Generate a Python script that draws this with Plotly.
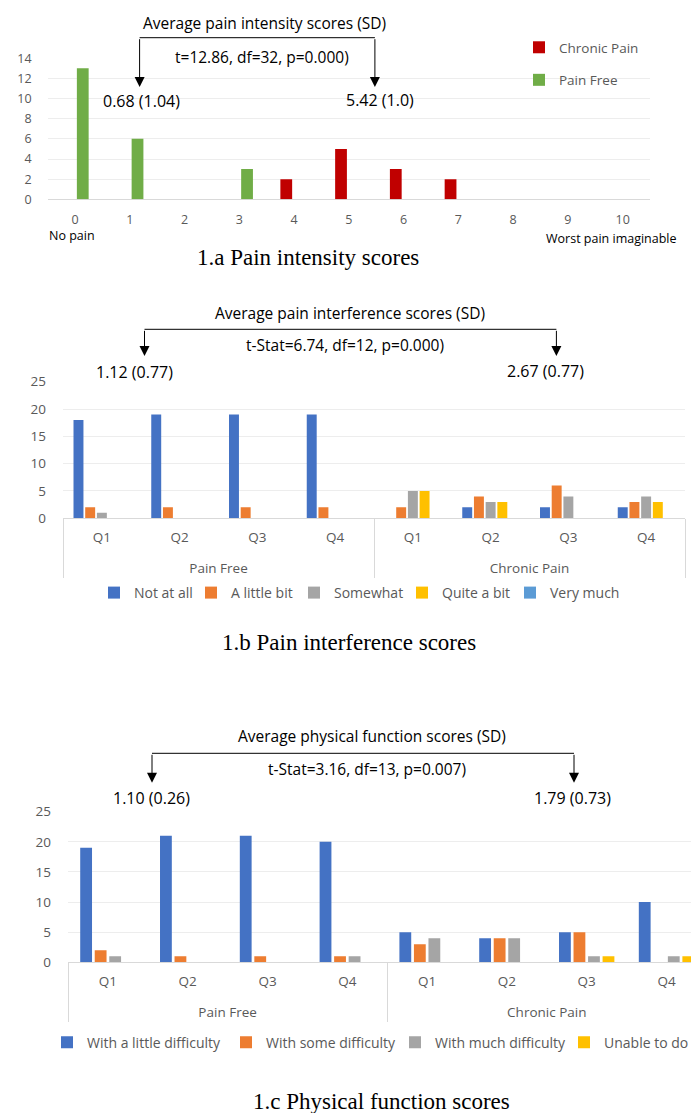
import plotly.graph_objects as go

# ---------------- data: 1.a pain intensity ----------------
intensity_levels = ["0", "1", "2", "3", "4", "5", "6", "7", "8", "9", "10"]
chronic_pain_counts = [0, 0, 0, 0, 2, 5, 3, 2, 0, 0, 0]
pain_free_counts = [13, 6, 0, 3, 0, 0, 0, 0, 0, 0, 0]
intensity_y_ticks = [0, 2, 4, 6, 8, 10, 12, 14]

# ---------------- data: 1.b pain interference ----------------
group_labels = ["Pain Free", "Pain Free", "Pain Free", "Pain Free",
                "Chronic Pain", "Chronic Pain", "Chronic Pain", "Chronic Pain"]
question_labels = ["Q1", "Q2", "Q3", "Q4", "Q1", "Q2", "Q3", "Q4"]
interference_names = ["Not at all", "A little bit", "Somewhat", "Quite a bit", "Very much"]
interference_not_at_all = [18, 19, 19, 19, 0, 2, 2, 2]
interference_a_little_bit = [2, 2, 2, 2, 2, 4, 6, 3]
interference_somewhat = [1, 0, 0, 0, 5, 3, 4, 4]
interference_quite_a_bit = [0, 0, 0, 0, 5, 3, 0, 3]
interference_very_much = [0, 0, 0, 0, 0, 0, 0, 0]

# ---------------- data: 1.c physical function ----------------
function_names = ["With a little difficulty", "With some difficulty",
                  "With much difficulty", "Unable to do"]
function_little = [19, 21, 21, 20, 5, 4, 5, 10]
function_some = [2, 1, 1, 1, 3, 4, 5, 0]
function_much = [1, 0, 0, 1, 4, 4, 1, 1]
function_unable = [0, 0, 0, 0, 0, 0, 1, 1]

# ---------------- styling ----------------
W, H = 691, 1113
FONT = "Open Sans"
SERIF = "Liberation Serif"
TICK_COLOR = "#595959"
GRID = "#EDEDED"
AXIS = "#D9D9D9"
C5 = ["#4472C4", "#ED7D31", "#A5A5A5", "#FFC000", "#5B9BD5"]


def fx(p):
    return p / W


def fy(p):
    return 1 - p / H


def offsets(n, slot, width):
    return [(i - (n - 1) / 2) * slot - width / 2 for i in range(n)]


fig = go.Figure()

# ---- 1.a traces
off_a = offsets(2, 0.284, 0.215)
fig.add_trace(go.Bar(x=intensity_levels, y=chronic_pain_counts, name="Chronic Pain",
                     marker=dict(color="#C00000", line=dict(width=0)),
                     width=0.215, offset=off_a[0], xaxis="x", yaxis="y",
                     legend="legend", legendgroup="cp"))
fig.add_trace(go.Bar(x=intensity_levels, y=pain_free_counts, name="Pain Free",
                     marker=dict(color="#70AD47", line=dict(width=0)),
                     width=0.215, offset=off_a[1], xaxis="x", yaxis="y",
                     legend="legend", legendgroup="pf"))

# ---- 1.b traces
b_series = [interference_not_at_all, interference_a_little_bit, interference_somewhat,
            interference_quite_a_bit, interference_very_much]
off_b = offsets(5, 0.1505, 0.128)
b_widths = [52, 58, 63, 63, 70]
for i, (nm, vals) in enumerate(zip(interference_names, b_series)):
    fig.add_trace(go.Bar(x=[group_labels, question_labels], y=vals, name=nm,
                         marker=dict(color=C5[i], line=dict(width=0)),
                         width=0.128, offset=off_b[i], xaxis="x2", yaxis="y2",
                         legend="legend2", legendwidth=b_widths[i]))

# ---- 1.c traces
c_series = [function_little, function_some, function_much, function_unable]
off_c = offsets(4, 0.182, 0.148)
c_widths = [134, 124, 124, 80]
for i, (nm, vals) in enumerate(zip(function_names, c_series)):
    fig.add_trace(go.Bar(x=[group_labels, question_labels], y=vals, name=nm,
                         marker=dict(color=C5[i], line=dict(width=0)),
                         width=0.148, offset=off_c[i], xaxis="x3", yaxis="y3",
                         legend="legend3", legendwidth=c_widths[i]))

tick_a = dict(family=FONT, size=12.5, color=TICK_COLOR)
tick_bc = dict(family=FONT, size=13.5, color=TICK_COLOR)

multicat = dict(type="multicategory", showgrid=False, showline=True, linecolor=AXIS,
                linewidth=1, showdividers=True, dividercolor=AXIS, dividerwidth=1,
                ticks="", tickfont=tick_bc, ticklabelstandoff=6, ticksuffix="<br> ",
                automargin=False)

fig.update_layout(
    width=W, height=H, margin=dict(l=0, r=0, t=0, b=0, autoexpand=False),
    paper_bgcolor="white", plot_bgcolor="white",
    barmode="group", showlegend=True,
    font=dict(family=FONT, color="#000000"),
    # 1.a axes
    xaxis=dict(domain=[fx(47.6), fx(650)], type="category", range=[-0.5, 10.5],
               showgrid=False, showline=False, zeroline=False, ticks="",
               tickfont=tick_a, ticklabelstandoff=11, anchor="y", automargin=False),
    yaxis=dict(domain=[fy(199.3), fy(58.3)], range=[0, 14], tickvals=intensity_y_ticks,
               showgrid=True, gridcolor=GRID, gridwidth=1, zeroline=True,
               zerolinecolor=AXIS, zerolinewidth=1, showline=False, ticks="",
               tickfont=tick_a, ticklabelstandoff=15, anchor="x", automargin=False),
    # 1.b axes
    xaxis2=dict(domain=[fx(63), fx(685)], range=[-0.5, 7.5], anchor="y2", **multicat),
    yaxis2=dict(domain=[fy(518.3), fy(381.7)], range=[0, 25], dtick=5,
                showgrid=True, gridcolor=GRID, gridwidth=1, zeroline=False,
                showline=False, ticks="", tickfont=tick_bc, ticklabelstandoff=16,
                anchor="x2", automargin=False),
    # 1.c axes
    xaxis3=dict(domain=[fx(68), 1.0], range=[-0.5, 7.307], anchor="y3", **multicat),
    yaxis3=dict(domain=[fy(962.3), fy(811.7)], range=[0, 25], dtick=5,
                showgrid=True, gridcolor=GRID, gridwidth=1, zeroline=False,
                showline=False, ticks="", tickfont=tick_bc, ticklabelstandoff=16,
                anchor="x3", automargin=False),
    legend=dict(x=fx(519), y=fy(32), xanchor="left", yanchor="top",
                orientation="v", traceorder="grouped", tracegroupgap=12,
                font=dict(family=FONT, size=13.5, color=TICK_COLOR),
                bgcolor="rgba(0,0,0,0)"),
    legend2=dict(x=fx(94), y=fy(593), xanchor="left", yanchor="middle",
                 orientation="h", traceorder="normal",
                 font=dict(family=FONT, size=14, color=TICK_COLOR),
                 bgcolor="rgba(0,0,0,0)"),
    legend3=dict(x=fx(47), y=fy(1042.7), xanchor="left", yanchor="middle",
                 orientation="h", traceorder="normal",
                 font=dict(family=FONT, size=14, color=TICK_COLOR),
                 bgcolor="rgba(0,0,0,0)"),
)

ann = []
shapes = []


def text_ann(txt, x, y, size, family=FONT, color="#000"):
    ann.append(dict(text=txt, x=fx(x), y=fy(y), xref="paper", yref="paper",
                    showarrow=False, font=dict(family=family, size=size, color=color),
                    xanchor="center", yanchor="middle"))


def bracket(title, tx, ty, stat, sx, sy, left_txt, lx, ly, right_txt, rx, ry,
            x1, x2, top, tip):
    text_ann(title, tx, ty, 15.5)
    text_ann(stat, sx, sy, 15.5)
    text_ann(left_txt, lx, ly, 16)
    text_ann(right_txt, rx, ry, 16)
    shapes.append(dict(type="line", xref="paper", yref="paper", x0=fx(x1), x1=fx(x2),
                       y0=fy(top), y1=fy(top), line=dict(color="#000", width=1)))
    for xx in (x1, x2):
        ann.append(dict(text="", x=fx(xx), y=fy(tip), xref="paper", yref="paper",
                        showarrow=True, arrowhead=2, arrowsize=2, arrowwidth=1,
                        arrowcolor="#000", ax=0, ay=-(tip - top)))


bracket("Average pain intensity scores (SD)", 264, 23,
        "t=12.86, df=32, p=0.000)", 262, 56.7,
        "0.68 (1.04)", 141.8, 101, "5.42 (1.0)", 379.7, 100,
        139.6, 374.9, 37.7, 87)
bracket("Average pain interference scores (SD)", 350, 313,
        "t-Stat=6.74, df=12, p=0.000)", 345, 345,
        "1.12 (0.77)", 134.4, 372, "2.67 (0.77)", 545.4, 371,
        144.5, 556.4, 329.3, 356)
bracket("Average physical function scores (SD)", 372, 735.7,
        "t-Stat=3.16, df=13, p=0.007)", 367, 769.3,
        "1.10 (0.26)", 151, 798.3, "1.79 (0.73)", 572.7, 798.3,
        152, 574, 753.3, 782.7)

# axis end labels for 1.a
text_ann("No pain", 72, 235, 12.5)
text_ann("Worst pain imaginable", 611, 239, 12.5)

# captions
text_ann("1.a Pain intensity scores", 308, 257, 23, SERIF)
text_ann("1.b Pain interference scores", 349, 642.7, 23, SERIF)
text_ann("1.c Physical function scores", 381, 1101.7, 23, SERIF)

fig.update_layout(annotations=ann, shapes=shapes)
fig.write_html("out.html", config={"displayModeBar": False},
               post_script="document.body.style.margin='0px';")
